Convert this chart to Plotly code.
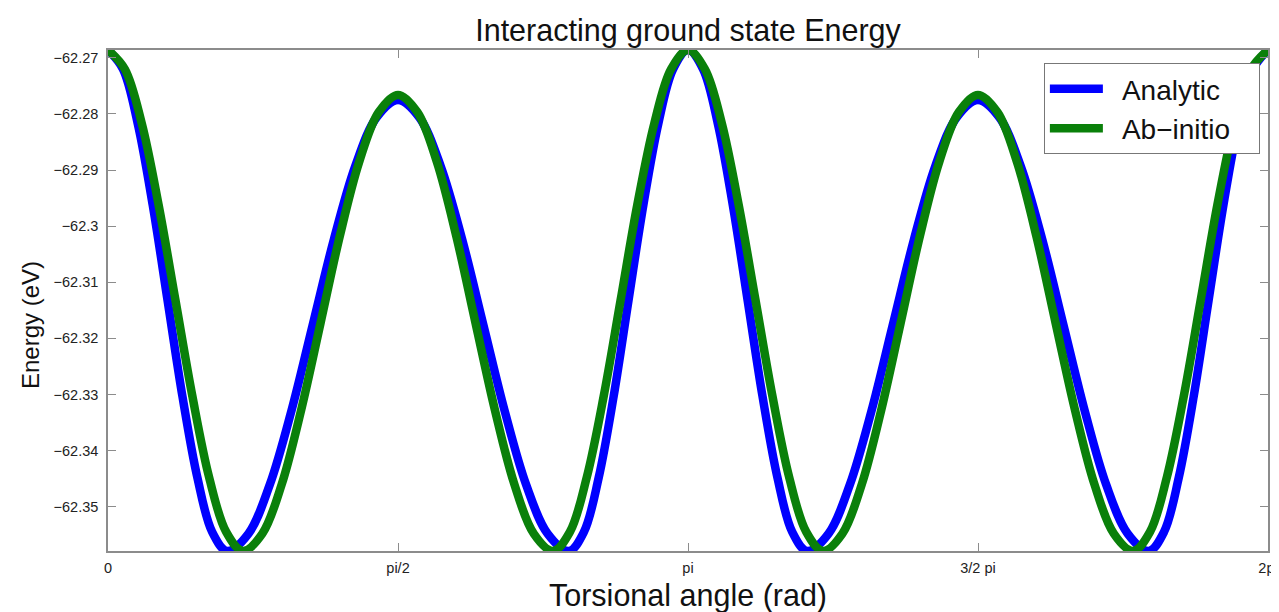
import plotly.graph_objects as go

# Torsional angle (rad) samples for each curve
angle_analytic = [
    0.000, 0.081, 0.161, 0.242, 0.323, 0.403, 0.484, 0.564, 0.645,
    0.761, 0.876, 0.992, 1.108, 1.224, 1.339, 1.455, 1.571,
    1.686, 1.802, 1.918, 2.034, 2.150, 2.265, 2.381, 2.497,
    2.578, 2.658, 2.739, 2.819, 2.900, 2.981, 3.061, 3.142,
    3.223, 3.303, 3.384, 3.465, 3.545, 3.626, 3.706, 3.787,
    3.903, 4.018, 4.134, 4.250, 4.366, 4.481, 4.597, 4.712,
    4.828, 4.944, 5.060, 5.176, 5.292, 5.407, 5.523, 5.638,
    5.720, 5.800, 5.881, 5.961, 6.042, 6.123, 6.203, 6.283,
]
energy_analytic = [
    -62.2686, -62.2720, -62.2817, -62.2962, -62.3133, -62.3303, -62.3448, -62.3545, -62.3579,
    -62.3548, -62.3461, -62.3331, -62.3177, -62.3023, -62.2893, -62.2806, -62.2775,
    -62.2806, -62.2893, -62.3023, -62.3177, -62.3331, -62.3461, -62.3548, -62.3579,
    -62.3545, -62.3448, -62.3303, -62.3133, -62.2962, -62.2817, -62.2720, -62.2686,
    -62.2720, -62.2817, -62.2962, -62.3133, -62.3303, -62.3448, -62.3545, -62.3579,
    -62.3548, -62.3461, -62.3331, -62.3177, -62.3023, -62.2893, -62.2806, -62.2775,
    -62.2806, -62.2893, -62.3023, -62.3177, -62.3331, -62.3461, -62.3548, -62.3579,
    -62.3545, -62.3448, -62.3303, -62.3133, -62.2962, -62.2817, -62.2720, -62.2686,
]

angle_abinitio = [
    0.000, 0.091, 0.183, 0.274, 0.366, 0.457, 0.548, 0.640, 0.731,
    0.836, 0.941, 1.046, 1.151, 1.256, 1.361, 1.466, 1.571,
    1.676, 1.781, 1.886, 1.991, 2.096, 2.201, 2.306, 2.411,
    2.502, 2.593, 2.685, 2.776, 2.867, 2.959, 3.050, 3.142,
    3.233, 3.325, 3.416, 3.508, 3.599, 3.690, 3.782, 3.873,
    3.978, 4.083, 4.188, 4.293, 4.398, 4.503, 4.608, 4.712,
    4.818, 4.923, 5.028, 5.133, 5.238, 5.343, 5.448, 5.553,
    5.644, 5.735, 5.827, 5.918, 6.009, 6.101, 6.192, 6.283,
]
energy_abinitio = [
    -62.2686, -62.2720, -62.2817, -62.2962, -62.3133, -62.3303, -62.3448, -62.3545, -62.3579,
    -62.3548, -62.3460, -62.3328, -62.3173, -62.3017, -62.2885, -62.2797, -62.2766,
    -62.2797, -62.2885, -62.3017, -62.3173, -62.3328, -62.3460, -62.3548, -62.3579,
    -62.3545, -62.3448, -62.3303, -62.3133, -62.2962, -62.2817, -62.2720, -62.2686,
    -62.2720, -62.2817, -62.2962, -62.3133, -62.3303, -62.3448, -62.3545, -62.3579,
    -62.3548, -62.3460, -62.3328, -62.3173, -62.3017, -62.2885, -62.2797, -62.2766,
    -62.2797, -62.2885, -62.3017, -62.3173, -62.3328, -62.3460, -62.3548, -62.3579,
    -62.3545, -62.3448, -62.3303, -62.3133, -62.2962, -62.2817, -62.2720, -62.2686,
]

x_tick_vals = [0, 1.5708, 3.1416, 4.7124, 6.2832]
x_tick_text = ["0", "pi/2", "pi", "3/2 pi", "2pi"]
y_tick_vals = [-62.27, -62.28, -62.29, -62.30, -62.31, -62.32, -62.33, -62.34, -62.35]
y_tick_text = ["\u221262.27", "\u221262.28", "\u221262.29", "\u221262.3", "\u221262.31",
               "\u221262.32", "\u221262.33", "\u221262.34", "\u221262.35"]

FONT = "Liberation Sans, Arial, sans-serif"

# page has an 8px body margin
W, H = 1271, 604

fig = go.Figure()
fig.add_trace(go.Scatter(x=angle_analytic, y=energy_analytic, mode="lines", name="  Analytic",
                         line=dict(color="#0000ff", width=8.5, shape="spline")))
fig.add_trace(go.Scatter(x=angle_abinitio, y=energy_abinitio, mode="lines",
                         name="  Ab\u2212initio\u00a0\u00a0\u00a0",
                         line=dict(color="#0a800a", width=8.5, shape="spline")))

axis_common = dict(showline=True, linecolor="#8c8c8c", linewidth=1.5, mirror="ticks",
                   ticks="inside", ticklen=8, tickcolor="#8c8c8c", showgrid=False, zeroline=False,
                   automargin=False,
                   tickfont=dict(family=FONT, size=14.5, color="#222222"))

fig.update_xaxes(range=[0, 6.2832], tickvals=x_tick_vals, ticktext=x_tick_text,
                 ticklabeloverflow="allow", ticklabelstandoff=3, **axis_common)
fig.update_yaxes(range=[-62.3579, -62.2686], tickvals=y_tick_vals, ticktext=y_tick_text,
                 ticklabelstandoff=5, **axis_common)

fig.add_annotation(text="Torsional angle (rad)", xref="paper", yref="paper", x=0.5, y=-44 / 501,
                   xanchor="center", yanchor="middle", showarrow=False,
                   font=dict(family=FONT, size=30.5, color="#111111"))
fig.add_annotation(text="Energy (eV)", xref="paper", yref="paper", x=-78 / 1160, y=226 / 501,
                   xanchor="center", yanchor="middle", showarrow=False, textangle=-90,
                   font=dict(family=FONT, size=24, color="#111111"))

fig.update_layout(
    width=W, height=H,
    margin=dict(l=100, r=11, t=42, b=61),
    paper_bgcolor="white", plot_bgcolor="white",
    title=dict(text="Interacting ground state Energy", x=(688 - 8) / W, xanchor="center",
               y=1 - 22 / H, yanchor="middle", yref="container",
               font=dict(family=FONT, size=30.5, color="#111111")),
    legend=dict(x=0.993, y=0.974, xanchor="right", yanchor="top",
                bgcolor="white", bordercolor="#777777", borderwidth=1,
                font=dict(family=FONT, size=28, color="#111111"), itemwidth=53,
                tracegroupgap=0),
    showlegend=True,
)

fig.write_html("out.html")
